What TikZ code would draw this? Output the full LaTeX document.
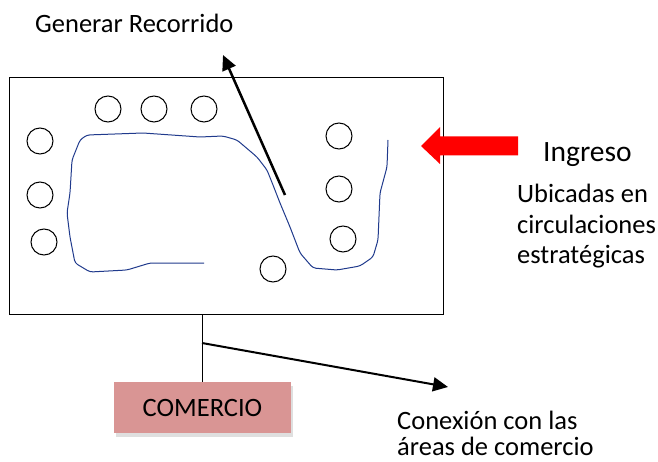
\documentclass[tikz,border=0pt]{standalone}
\usepackage{fontspec}
\setmainfont{Carlito}
\usetikzlibrary{shapes,arrows.meta,positioning,shadows}
\definecolor{rosa}{RGB}{217,149,148}
\definecolor{trazo}{RGB}{32,58,140}
\definecolor{rojo}{RGB}{255,0,0}
\tikzstyle{local} = [circle, draw, line width=1pt, minimum size=26pt, inner sep=0pt]
\tikzstyle{texto} = [anchor=base west, inner sep=0pt, align=left]
\tikzstyle{caja} = [rectangle, fill=rosa, minimum width=177pt, minimum height=51pt,
    inner sep=0pt, drop shadow={opacity=0.25, shadow xshift=1.5pt, shadow yshift=-3.5pt}]
\tikzstyle{flecha} = [draw, -{Triangle[length=15pt, width=14pt]}]

\begin{document}
\begin{tikzpicture}[x=1pt, y=-1pt, font=\fontsize{26.5}{29}\selectfont]
    \useasboundingbox (0,0) rectangle (658,462);

    \node[draw, line width=1pt, minimum width=434pt, minimum height=236pt] (plan) at (226,196) {};

    % locales
    \node[local] (c1) at (108,109) {};
    \node[local] (c2) at (154,109) {};
    \node[local] (c3) at (204,109) {};
    \node[local] (c4) at (40,141) {};
    \node[local] (c5) at (40,195) {};
    \node[local] (c6) at (44,242) {};
    \node[local] (c7) at (339,136) {};
    \node[local] (c8) at (339,189) {};
    \node[local] (c9) at (343,239) {};
    \node[local] (c10) at (273,269) {};

    % recorrido
    \draw[trazo, line width=1pt, rounded corners=3pt]
        (204,263) -- (150,263) -- (127,270) -- (90,272) -- (75,263) -- (70,237)
        -- (67,213) -- (70,193) -- (72,160) -- (80,140) -- (87,135) -- (143,133)
        -- (200,137) -- (223,136) -- (237,140) -- (257,157) -- (267,170)
        -- (273,185) -- (280,203) -- (290,227) -- (300,253) -- (313,268)
        -- (337,270) -- (360,266) -- (373,257) -- (378,240) -- (380,193)
        -- (387,167) -- (388,140);

    \node[texto] (gen) at (35,33) {Generar Recorrido};
    \node[texto, font=\fontsize{29.5}{32}\selectfont] (ing) at (543,162) {Ingreso};
    \node[texto, font=\fontsize{26.5}{30.5}\selectfont] (ubic) at (517,264)
        {Ubicadas en\\circulaciones\\estratégicas};
    \node[texto, font=\fontsize{26.5}{26}\selectfont] (conex) at (397,455)
        {Conexión con las\\áreas de comercio};

    \node[caja] (comercio) at (202.5,407.5) {COMERCIO};

    \coordinate (rStart) at (285,195);
    \coordinate (gTip) at (223,55);
    \coordinate (cStart) at (202,343);
    \coordinate (cTip) at (448,387);

    % ingreso
    \fill[rojo] (421,146) -- (440,127) -- (440,136.5) -- (518,136.5)
        -- (518,155.5) -- (440,155.5) -- (440,164) -- cycle;

    \path[draw, line width=1pt] (comercio.north) -- (comercio.north |- plan.south);
    \path[flecha, line width=2.5pt] (rStart) -- (gTip);
    \path[flecha, line width=2pt] (cStart) -- (cTip);
\end{tikzpicture}
\end{document}
